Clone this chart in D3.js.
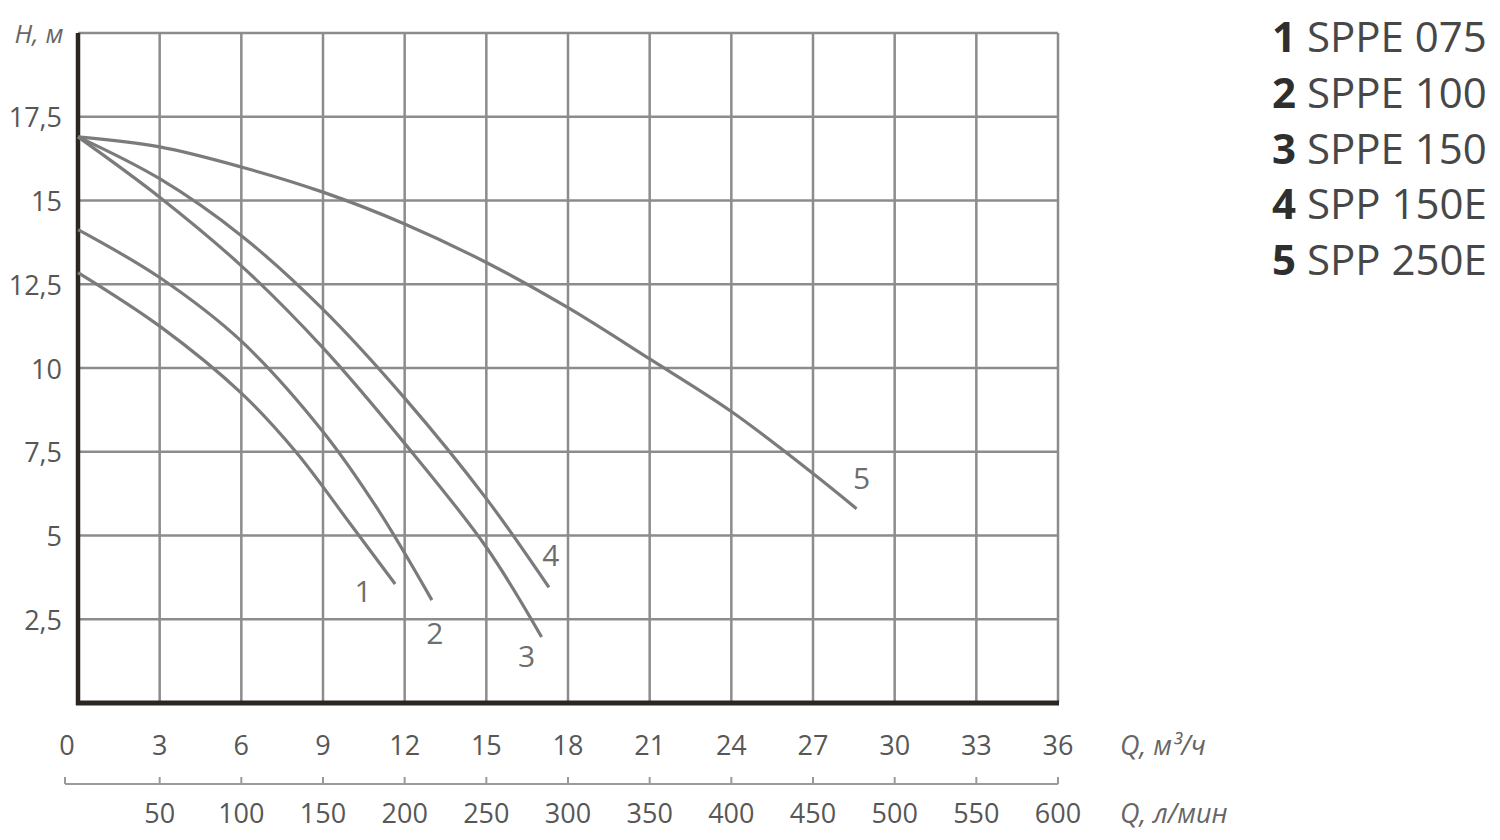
<!DOCTYPE html>
<html>
<head>
<meta charset="utf-8">
<script src="https://cdn.jsdelivr.net/npm/d3@7/dist/d3.min.js"></script>
<style>
  html, body { margin: 0; padding: 0; background: #ffffff; }
  svg { display: block; }
  text { font-family: "Open Sans", "DejaVu Sans", sans-serif; }
</style>
</head>
<body>
<svg id="chart" width="1500" height="840"></svg>
<script>
// ---- data ----
const qTicks = [0, 3, 6, 9, 12, 15, 18, 21, 24, 27, 30, 33, 36];          // m³/h
const lpmTicks = [50, 100, 150, 200, 250, 300, 350, 400, 450, 500, 550, 600]; // l/min
const hTicks = [2.5, 5, 7.5, 10, 12.5, 15, 17.5];
const hGrid = [2.5, 5, 7.5, 10, 12.5, 15, 17.5, 20];

const seriesNames = ["SPPE 075", "SPPE 100", "SPPE 150", "SPP 150E", "SPP 250E"];
const seriesIds = ["1", "2", "3", "4", "5"];

// [Q m³/h, H m]
const curve1 = [[0, 12.85], [3, 11.25], [6, 9.25], [8, 7.5], [10, 5.35], [11.65, 3.55]];
const curve2 = [[0, 14.13], [3, 12.7], [6, 10.8], [9, 8.1], [11, 5.8], [13, 3.07]];
const curve3 = [[0, 16.9], [3, 15.1], [6, 13.05], [9, 10.6], [12, 7.75], [15, 4.65], [17.03, 1.97]];
const curve4 = [[0, 16.9], [3, 15.65], [6, 13.95], [9, 11.75], [12, 9.1], [15, 6.1], [17.3, 3.45]];
const curve5 = [[0, 16.9], [3, 16.6], [6, 16.0], [9, 15.25], [12, 14.3], [15, 13.15], [18, 11.8], [21, 10.27], [24, 8.7], [27, 6.85], [28.6, 5.8]];
const curves = [curve1, curve2, curve3, curve4, curve5];

// label offsets relative to each curve end (px)
const labelOffsets = [[-32, 6], [3, 32], [-15, 18], [2, -33], [5, -31]];

// ---- scales ----
const x = d3.scaleLinear().domain([0, 36]).range([78, 1058]);
const xl = d3.scaleLinear().domain([0, 600]).range([78, 1058]);
const y = d3.scaleLinear().domain([0, 20]).range([703, 33]);

const svg = d3.select("#chart");
const gridColor = "#8c8c8c";
const axisColor = "#2b261f";
const lineColor = "#7b7b7b";
const textColor = "#575757";

// grid
svg.append("g").selectAll("line.v").data(qTicks.filter(d => d > 0)).join("line")
  .attr("x1", d => x(d)).attr("x2", d => x(d))
  .attr("y1", y(20)).attr("y2", y(0))
  .attr("stroke", gridColor).attr("stroke-width", 2.5);
svg.append("g").selectAll("line.h").data(hGrid).join("line")
  .attr("x1", x(0)).attr("x2", x(36))
  .attr("y1", d => y(d)).attr("y2", d => y(d))
  .attr("stroke", gridColor).attr("stroke-width", 2.5);

// axes (thick)
svg.append("line").attr("x1", x(0)).attr("x2", x(0)).attr("y1", y(20)).attr("y2", y(0) + 2)
  .attr("stroke", axisColor).attr("stroke-width", 4.5);
svg.append("line").attr("x1", x(0) - 2).attr("x2", x(36) + 1).attr("y1", y(0)).attr("y2", y(0))
  .attr("stroke", axisColor).attr("stroke-width", 5);

// curves
const line = d3.line().x(d => x(d[0])).y(d => y(d[1])).curve(d3.curveCatmullRom.alpha(0.5));
svg.append("g").selectAll("path").data(curves).join("path")
  .attr("d", line)
  .attr("fill", "none")
  .attr("stroke", lineColor)
  .attr("stroke-width", 3.2)
  .attr("stroke-linecap", "butt");

// curve labels
svg.append("g").selectAll("text").data(curves).join("text")
  .attr("x", (d, i) => x(d[d.length - 1][0]) + labelOffsets[i][0])
  .attr("y", (d, i) => y(d[d.length - 1][1]) + labelOffsets[i][1])
  .attr("text-anchor", "middle").attr("dominant-baseline", "central")
  .attr("font-size", 30).attr("fill", "#6e6e6e")
  .text((d, i) => seriesIds[i]);

// y tick labels
svg.append("g").selectAll("text").data(hTicks).join("text")
  .attr("x", 62).attr("y", d => y(d))
  .attr("text-anchor", "end").attr("dominant-baseline", "central")
  .attr("font-size", 27).attr("fill", textColor)
  .text(d => String(d).replace(".", ","));

svg.append("text").attr("x", 39).attr("y", y(20))
  .attr("text-anchor", "middle").attr("dominant-baseline", "central")
  .attr("font-size", 26).attr("font-style", "italic").attr("fill", "#666")
  .text("H, м");

// x tick labels (m³/h)
svg.append("g").selectAll("text").data(qTicks).join("text")
  .attr("x", d => d === 0 ? x(d) - 11 : x(d)).attr("y", 744)
  .attr("text-anchor", "middle").attr("dominant-baseline", "central")
  .attr("font-size", 27).attr("fill", textColor)
  .text(d => d);

svg.append("text").attr("x", 1120).attr("y", 744)
  .attr("dominant-baseline", "central")
  .attr("font-size", 27).attr("font-style", "italic").attr("fill", "#666")
  .text("Q, м³/ч");

// second axis (l/min)
const lAxisY = 784;
svg.append("line").attr("x1", xl(0) - 13).attr("x2", xl(600)).attr("y1", lAxisY).attr("y2", lAxisY)
  .attr("stroke", "#9a9a9a").attr("stroke-width", 2);
svg.append("g").selectAll("line").data([0].concat(lpmTicks)).join("line")
  .attr("x1", d => d === 0 ? xl(d) - 13 : xl(d)).attr("x2", d => d === 0 ? xl(d) - 13 : xl(d))
  .attr("y1", lAxisY).attr("y2", lAxisY - 7)
  .attr("stroke", "#9a9a9a").attr("stroke-width", 2);
svg.append("g").selectAll("text").data(lpmTicks).join("text")
  .attr("x", d => xl(d)).attr("y", 812)
  .attr("text-anchor", "middle").attr("dominant-baseline", "central")
  .attr("font-size", 27).attr("fill", textColor)
  .text(d => d);

svg.append("text").attr("x", 1120).attr("y", 812)
  .attr("dominant-baseline", "central")
  .attr("font-size", 27).attr("font-style", "italic").attr("fill", "#666")
  .text("Q, л/мин");

// legend
const legend = svg.append("g").selectAll("text").data(seriesNames).join("text")
  .attr("x", 1272).attr("y", (d, i) => 35 + i * 55.8)
  .attr("dominant-baseline", "central")
  .attr("font-size", 42).attr("fill", "#474747");
legend.append("tspan").attr("font-weight", "bold").attr("fill", "#2e2e2e").text((d, i) => seriesIds[i]);
legend.append("tspan").text(d => " " + d);
</script>
</body>
</html>
